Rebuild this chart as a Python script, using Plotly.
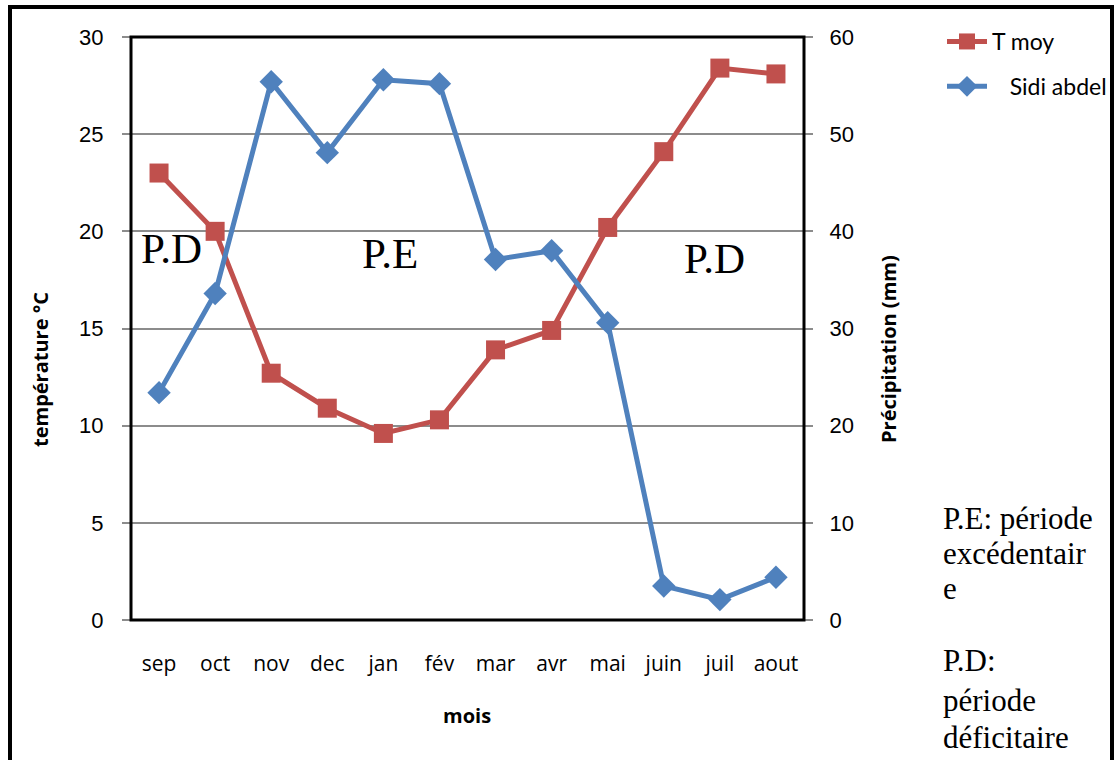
import plotly.graph_objects as go

mois = ["sep", "oct", "nov", "dec", "jan", "fév", "mar", "avr", "mai", "juin", "juil", "aout"]
t_moy = [23.0, 20.0, 12.7, 10.9, 9.6, 10.3, 13.9, 14.9, 20.2, 24.1, 28.4, 28.1]
sidi_abdel = [23.4, 33.6, 55.4, 48.1, 55.6, 55.2, 37.1, 38.0, 30.6, 3.5, 2.1, 4.4]

RED = "#C0504D"
BLUE = "#4F81BD"

W, H = 1119, 760
L, R, T, B = 131, 804, 37, 620
pw, ph = R - L, B - T

def px(x):
    return (x - L) / pw

def py(y):
    return (B - y) / ph

fig = go.Figure()
fig.add_trace(go.Scatter(
    x=mois, y=t_moy, name="T moy", mode="lines+markers",
    line=dict(color=RED, width=5),
    marker=dict(symbol="square", size=19, color=RED),
    legendgroup="a", yaxis="y"))
fig.add_trace(go.Scatter(
    x=mois, y=sidi_abdel, name="\u00a0\u00a0\u00a0Sidi abdel", mode="lines+markers",
    line=dict(color=BLUE, width=5),
    marker=dict(symbol="diamond", size=18, color=BLUE),
    legendgroup="b", yaxis="y2"))

axis_font = dict(family="Liberation Sans, Arial", size=22, color="black")
fig.update_layout(
    width=W, height=H,
    margin=dict(l=L, r=W - R, t=T, b=H - B, autoexpand=False),
    paper_bgcolor="white", plot_bgcolor="white",
    showlegend=True,
    legend=dict(x=px(942), y=py(20), xanchor="left", yanchor="top",
                font=dict(family="Lato, Open Sans", size=23, color="black"),
                tracegroupgap=12, bgcolor="rgba(0,0,0,0)", itemwidth=40),
    xaxis=dict(type="category", range=[-0.5, 11.5], showgrid=False,
               showline=False, zeroline=False, ticks="",
               ticklabelstandoff=29,
               tickfont=dict(family="Open Sans", size=21, color="black")),
    yaxis=dict(range=[0, 30], dtick=5, tick0=0, showgrid=True,
               gridcolor="#8C8C8C", gridwidth=1.5, zeroline=False,
               showline=False, ticks="outside", ticklen=8, tickcolor="#8C8C8C",
               tickwidth=1.5, tickfont=axis_font, ticklabelstandoff=14),
    yaxis2=dict(range=[0, 60], dtick=10, tick0=0, overlaying="y", side="right",
                showgrid=False, zeroline=False, showline=False,
                ticks="outside", ticklen=8, tickcolor="#8C8C8C", tickwidth=1.5,
                tickfont=axis_font, ticklabelstandoff=12),
)

# plot-area border and outer frame
fig.add_shape(type="rect", xref="paper", yref="paper", x0=0, x1=1, y0=0, y1=1,
              line=dict(color="black", width=3), layer="above")
fig.add_shape(type="rect", xref="paper", yref="paper",
              x0=px(10), x1=px(1112), y0=py(800), y1=py(7),
              line=dict(color="black", width=4))

title_font = dict(family="Open Sans", size=20, color="black")
ann = [
    dict(x=px(40), y=py(370), text="<b>température °C</b>", textangle=-90, font=title_font),
    dict(x=px(888), y=py(349), text="<b>Précipitation (mm)</b>", textangle=-90, font=title_font),
    dict(x=px(467), y=py(715), text="<b>mois</b>", font=title_font),
]
serif = dict(family="Liberation Serif, Times New Roman", size=43, color="black")
ann += [
    dict(x=px(171), y=py(248), text="P.D", font=serif),
    dict(x=px(390), y=py(253), text="P.E", font=serif),
    dict(x=px(714), y=py(258), text="P.D", font=serif),
]
for a in ann:
    fig.add_annotation(xref="paper", yref="paper", showarrow=False,
                       xanchor="center", yanchor="middle", **a)

note_font = dict(family="Liberation Serif, Times New Roman", size=31, color="black")
note_lines = ["P.E: période", "excédentair", "e", "P.D:", "période", "déficitaire"]
note_y = [518, 553, 588, 660, 700, 737]
for txt, yy in zip(note_lines, note_y):
    fig.add_annotation(xref="paper", yref="paper", showarrow=False,
                       x=px(941), y=py(yy), xanchor="left", yanchor="middle",
                       text=txt, font=note_font)

fig.write_html("out.html")
